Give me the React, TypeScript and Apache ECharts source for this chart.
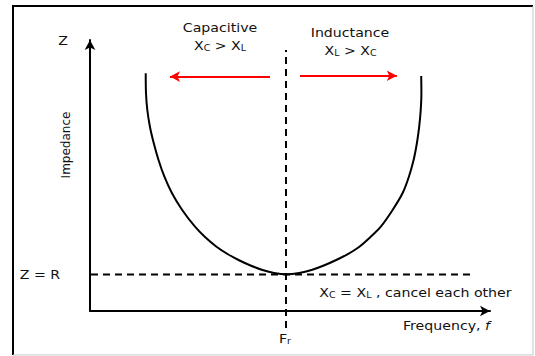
import React, { useEffect, useRef } from "react";
import * as echarts from "echarts";

// Resonance curve (impedance vs frequency), arbitrary units 0..100
const curveFreq = [
  13.93, 14.0, 14.33, 14.98, 15.93, 17.13, 18.63, 20.5, 23.05, 26.25, 28.75, 31.63, 34.38, 37.13, 40.13, 43.13, 46.0,
  49.18,
  52.3, 55.38, 58.45, 61.55, 64.45, 67.35, 70.13, 72.7, 75.65, 78.13, 79.7, 80.9, 81.73, 82.3, 82.68, 82.85, 82.8,
];
const curveImpedance = [
  87.71, 80.33, 74.17, 68.01, 61.99, 55.72, 49.45, 43.43, 37.27, 31.11, 27.31, 23.73, 21.03, 18.82, 16.79, 15.13, 14.02,
  13.54,
  14.02, 15.13, 16.79, 18.82, 21.03, 23.73, 27.31, 31.11, 37.27, 43.43, 49.45, 55.72, 61.99, 68.01, 74.17, 80.33, 86.72,
];

// Resonant frequency marker (vertical dashed line)
const resonanceFreq = 49;
const resonanceSpan = [-6.3, 96.3];

// Z = R level (horizontal dashed line)
const zrLevel = 13.5;
const zrSpan = [-2.75, 96];

// Red direction arrows: [fromFreq, toFreq, level]
const capacitiveArrow = [45, 20, 86.5];
const inductiveArrow = [52.5, 76.7, 86.8];

const FONT = "DejaVu Sans";
const SX = 1.18;

export default function App() {
  const ref = useRef<HTMLDivElement>(null);
  useEffect(() => {
    if (!ref.current) return;
    const chart = echarts.init(ref.current, null, { renderer: "svg" });
    const txt = (text: string, x: number, y: number, extra: any = {}) => ({
      type: "text",
      x,
      y,
      scaleX: extra.noScale ? 1 : SX,
      rotation: extra.rotation || 0,
      z: 10,
      style: {
        text,
        fontFamily: FONT,
        fontSize: 12,
        fill: "#111",
        align: "center",
        verticalAlign: "middle",
        rich: {
          s: { fontSize: 8, fontFamily: FONT, fill: "#111", verticalAlign: "bottom", padding: [3, 0, 0, 0] },
          i: { fontSize: 12, fontFamily: FONT, fill: "#111", fontStyle: "italic" },
        },
      },
    });
    const axisCommon = {
      type: "value",
      min: 0,
      max: 100,
      axisLine: {
        show: true,
        symbol: ["none", "arrow"],
        symbolSize: [8, 10],
        lineStyle: { color: "#000", width: 2 },
      },
      axisTick: { show: false },
      axisLabel: { show: false },
      splitLine: { show: false },
    };
    chart.setOption({
      animation: false,
      backgroundColor: "#fff",
      grid: { left: 90, top: 40, right: 45, bottom: 45 },
      xAxis: { ...axisCommon },
      yAxis: { ...axisCommon },
      series: [
        {
          type: "line",
          data: curveFreq.map((f, i) => [f, curveImpedance[i]]),
          smooth: 0.3,
          showSymbol: false,
          lineStyle: { color: "#000", width: 2 },
          silent: true,
          markLine: {
            silent: true,
            symbol: ["none", "arrow"],
            symbolSize: [8, 10],
            label: { show: false },
            lineStyle: { color: "#ff0000", width: 2, type: "solid" },
            data: [
              [{ coord: [capacitiveArrow[0], capacitiveArrow[2]] }, { coord: [capacitiveArrow[1], capacitiveArrow[2]] }],
              [{ coord: [inductiveArrow[0], inductiveArrow[2]] }, { coord: [inductiveArrow[1], inductiveArrow[2]] }],
            ],
          },
        },
        {
          type: "line",
          data: resonanceSpan.map((v) => [resonanceFreq, v]),
          showSymbol: false,
          clip: false,
          silent: true,
          lineStyle: { color: "#000", width: 2, type: [7, 5] },
        },
        {
          type: "line",
          data: zrSpan.map((v) => [v, zrLevel]),
          showSymbol: false,
          clip: false,
          silent: true,
          lineStyle: { color: "#000", width: 2, type: [7, 5] },
        },
      ],
      graphic: [
        { type: "polyline", shape: { points: [[13, 355], [13, 6], [533, 6]] }, style: { stroke: "#000", lineWidth: 2, fill: null } },
        { type: "line", shape: { x1: 533, y1: 6, x2: 533, y2: 355 }, style: { stroke: "#c8c8c8", lineWidth: 1 } },
        { type: "line", shape: { x1: 13, y1: 355, x2: 533, y2: 355 }, style: { stroke: "#c8c8c8", lineWidth: 1 } },
        txt("Z", 63, 41),
        txt("Impedance", 66, 145, { rotation: Math.PI / 2, noScale: true }),
        txt("Capacitive", 220, 28),
        txt("X{s|C} > X{s|L}", 220, 46),
        txt("Inductance", 350, 33),
        txt("X{s|L} > X{s|C}", 350.5, 51),
        txt("Z = R", 40, 275),
        txt("X{s|C} = X{s|L} , cancel each other", 415.5, 293),
        txt("Frequency, {i|f}", 446.5, 326),
        txt("F{s|r}", 285, 339),
      ],
    });
    return () => chart.dispose();
  }, []);
  return <div ref={ref} style={{ position: "fixed", left: 0, top: 0, width: 535, height: 356 }} />;
}
